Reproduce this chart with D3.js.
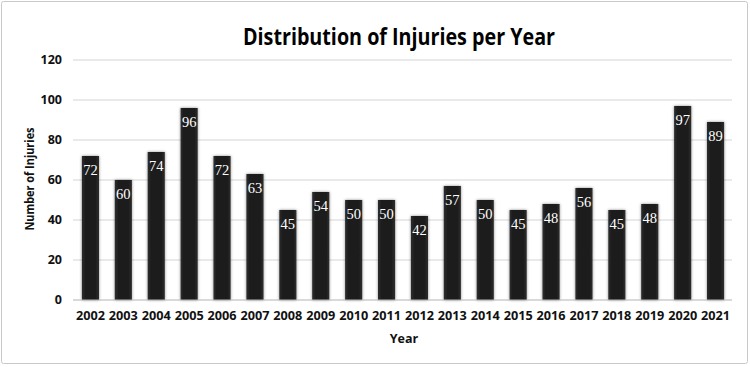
<!DOCTYPE html>
<html>
<head>
<meta charset="utf-8">
<script src="https://cdn.jsdelivr.net/npm/d3@7"></script>
<style>
  body { margin: 0; background: #fff; }
  svg { display: block; font-family: "Open Sans", "DejaVu Sans", sans-serif; }
</style>
</head>
<body>
<svg width="750" height="367"></svg>
<script>
const years = ["2002","2003","2004","2005","2006","2007","2008","2009","2010","2011",
  "2012","2013","2014","2015","2016","2017","2018","2019","2020","2021"];
const injuries = [72, 60, 74, 96, 72, 63, 45, 54, 50, 50, 42, 57, 50, 45, 48, 56, 45, 48, 97, 89];
const yTicks = [0, 20, 40, 60, 80, 100, 120];

const svg = d3.select("svg");
const m = { left: 74, right: 732, top: 60, bottom: 300 };

// outer frame
svg.append("rect")
  .attr("x", 1.5).attr("y", 1.5)
  .attr("width", 746).attr("height", 362)
  .attr("rx", 2)
  .attr("fill", "#fff")
  .attr("stroke", "#c8c8c8");

const defs = svg.append("defs");
const grad = defs.append("linearGradient").attr("id", "barGrad")
  .attr("x1", "0").attr("x2", "1").attr("y1", "0").attr("y2", "0");
grad.append("stop").attr("offset", "0%").attr("stop-color", "#2e2e2e");
grad.append("stop").attr("offset", "20%").attr("stop-color", "#1c1c1c");
grad.append("stop").attr("offset", "80%").attr("stop-color", "#1c1c1c");
grad.append("stop").attr("offset", "100%").attr("stop-color", "#2e2e2e");
const shadow = defs.append("filter").attr("id", "shadow")
  .attr("x", "-30%").attr("y", "-10%").attr("width", "160%").attr("height", "120%");
shadow.append("feDropShadow").attr("dx", 0).attr("dy", 0).attr("stdDeviation", 1.5)
  .attr("flood-color", "#000").attr("flood-opacity", 0.45);

const x = d3.scaleBand().domain(years).range([m.left, m.right]).paddingInner(0.48).paddingOuter(0.24);
const y = d3.scaleLinear().domain([0, 120]).range([m.bottom, m.top]);

// gridlines
svg.append("g").selectAll("line")
  .data(yTicks.slice(1))
  .enter().append("line")
  .attr("x1", m.left - 1).attr("x2", m.right)
  .attr("y1", d => y(d)).attr("y2", d => y(d))
  .attr("stroke", "#d4d4d4").attr("stroke-width", 1);

// y tick labels
svg.append("g").selectAll("text")
  .data(yTicks)
  .enter().append("text")
  .attr("x", 62).attr("y", d => y(d))
  .attr("dy", "0.35em")
  .attr("text-anchor", "end")
  .attr("font-size", 12.5).attr("font-weight", "bold")
  .attr("fill", "#111")
  .text(d => d);

// bars
svg.append("g").selectAll("rect")
  .data(injuries)
  .enter().append("rect")
  .attr("x", (d, i) => x(years[i]))
  .attr("width", x.bandwidth())
  .attr("y", d => y(d))
  .attr("height", d => y(0) - y(d))
  .attr("fill", "url(#barGrad)")
  .attr("filter", "url(#shadow)");

// baseline
svg.append("line")
  .attr("x1", m.left - 1).attr("x2", m.right)
  .attr("y1", y(0)).attr("y2", y(0))
  .attr("stroke", "#b4b4b4").attr("stroke-width", 1.2);

// value labels
svg.append("g").selectAll("text")
  .data(injuries)
  .enter().append("text")
  .attr("x", (d, i) => x(years[i]) + x.bandwidth() / 2)
  .attr("y", d => y(d) + 19)
  .attr("text-anchor", "middle")
  .style("font-family", "'Liberation Serif', 'DejaVu Serif', serif")
  .attr("font-size", 14.5)
  .attr("fill", "#fff")
  .text(d => d);

// x tick labels
svg.append("g").selectAll("text")
  .data(years)
  .enter().append("text")
  .attr("x", d => x(d) + x.bandwidth() / 2)
  .attr("y", 320)
  .attr("text-anchor", "middle")
  .attr("font-size", 12.5).attr("font-weight", "bold")
  .attr("fill", "#111")
  .attr("textLength", 29).attr("lengthAdjust", "spacingAndGlyphs")
  .text(d => d);

// axis titles
svg.append("text")
  .attr("x", 404).attr("y", 343)
  .attr("text-anchor", "middle")
  .attr("font-size", 12.5).attr("font-weight", "bold")
  .attr("fill", "#111")
  .text("Year");

svg.append("text")
  .attr("transform", "translate(34,179) rotate(-90)")
  .attr("text-anchor", "middle")
  .attr("font-size", 12.5).attr("font-weight", "bold")
  .attr("fill", "#111")
  .attr("textLength", 103).attr("lengthAdjust", "spacingAndGlyphs")
  .text("Number of Injuries");

// title
svg.append("text")
  .attr("x", 399).attr("y", 45)
  .attr("text-anchor", "middle")
  .attr("font-size", 24).attr("font-weight", "bold")
  .attr("fill", "#000")
  .attr("textLength", 312).attr("lengthAdjust", "spacingAndGlyphs")
  .text("Distribution of Injuries per Year");
</script>
</body>
</html>
